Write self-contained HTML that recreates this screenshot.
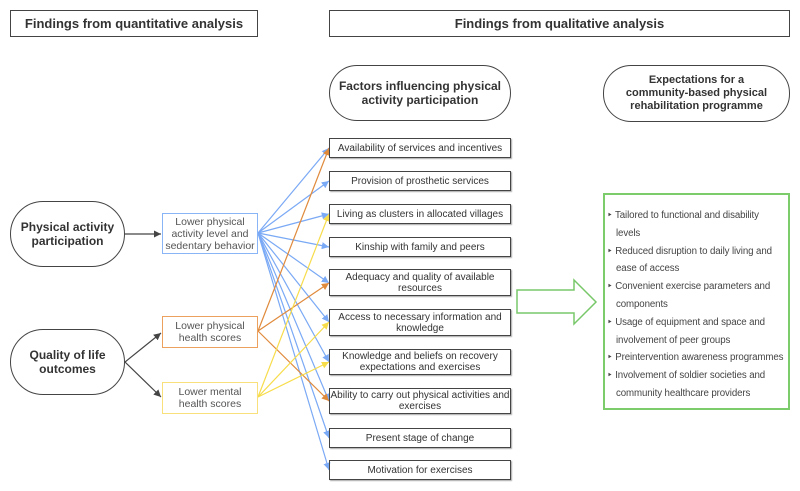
<!DOCTYPE html>
<html><head><style>
body{margin:0;width:800px;height:491px;background:#fff;font-family:"Liberation Sans",sans-serif;color:#333;position:relative;overflow:hidden}
.a{position:absolute;box-sizing:border-box;display:flex;align-items:center;justify-content:center;text-align:center}
.h{border:1px solid #444;font-weight:bold;font-size:13px}
.f{border:1px solid #444;font-size:10px;line-height:11px;left:329px;width:182px;box-shadow:1px 1px 1px #aaa}
.o{border:1px solid #444;border-radius:35px;font-weight:bold}
.g{position:absolute;left:603px;top:193px;width:187px;height:217px;border:2px solid #7dcc6b;box-sizing:border-box;font-size:9.7px;letter-spacing:-0.1px;line-height:17.8px;padding:12px 0 0 2px;color:#444}
.g div{padding-left:9px;text-indent:-9px;white-space:nowrap}
</style></head><body>
<svg width="800" height="491" style="position:absolute;left:0;top:0">
<defs>
<marker id="mb" markerWidth="6" markerHeight="6" refX="6" refY="3" orient="auto"><path d="M0,0L6,3L0,6z" fill="#7aa9f5"/></marker>
<marker id="mo" markerWidth="6" markerHeight="6" refX="6" refY="3" orient="auto"><path d="M0,0L6,3L0,6z" fill="#e08a3c"/></marker>
<marker id="my" markerWidth="6" markerHeight="6" refX="6" refY="3" orient="auto"><path d="M0,0L6,3L0,6z" fill="#f7dc4a"/></marker>
<marker id="mk" markerWidth="6" markerHeight="6" refX="6" refY="3" orient="auto"><path d="M0,0L6,3L0,6z" fill="#444"/></marker>
</defs>
<g stroke="#444" stroke-width="1.2" fill="none">
<line x1="125" y1="234" x2="161" y2="234" marker-end="url(#mk)"/>
<line x1="125" y1="362" x2="161" y2="333" marker-end="url(#mk)"/>
<line x1="125" y1="362" x2="161" y2="397" marker-end="url(#mk)"/>
</g>
<g stroke="#7aa9f5" stroke-width="1.2" marker-end="url(#mb)">
<line x1="258" y1="233" x2="329" y2="148"/><line x1="258" y1="233" x2="329" y2="181"/>
<line x1="258" y1="233" x2="329" y2="214"/><line x1="258" y1="233" x2="329" y2="247"/>
<line x1="258" y1="233" x2="329" y2="283"/><line x1="258" y1="233" x2="329" y2="322"/>
<line x1="258" y1="233" x2="329" y2="362"/><line x1="258" y1="233" x2="329" y2="401"/>
<line x1="258" y1="233" x2="329" y2="438"/><line x1="258" y1="233" x2="329" y2="470"/>
</g>
<g stroke="#e08a3c" stroke-width="1.2" marker-end="url(#mo)">
<line x1="258" y1="331" x2="329" y2="148"/><line x1="258" y1="331" x2="329" y2="283"/><line x1="258" y1="331" x2="329" y2="401"/>
</g>
<g stroke="#f7dc4a" stroke-width="1.2" marker-end="url(#my)">
<line x1="258" y1="397" x2="329" y2="214"/><line x1="258" y1="397" x2="329" y2="322"/><line x1="258" y1="397" x2="329" y2="362"/>
</g>
<path d="M517,290 L574,290 L574,280 L596,302 L574,324 L574,313 L517,313 Z" fill="#fff" stroke="#78c86a" stroke-width="1.5"/>
</svg>
<div class="a h" style="left:10px;top:10px;width:248px;height:27px">Findings from quantitative analysis</div>
<div class="a h" style="left:329px;top:10px;width:461px;height:27px">Findings from qualitative analysis</div>
<div class="a o" style="left:329px;top:65px;width:182px;height:56px;font-size:12px;border-radius:28px;padding:0 4px">Factors influencing physical activity participation</div>
<div class="a o" style="left:603px;top:65px;width:187px;height:57px;font-size:11px;line-height:13px;border-radius:28px;padding:0 14px">Expectations for a community-based physical rehabilitation programme</div>
<div class="a o" style="left:10px;top:201px;width:115px;height:66px;font-size:12px">Physical activity participation</div>
<div class="a o" style="left:10px;top:329px;width:115px;height:66px;font-size:12px">Quality of life outcomes</div>
<div class="a" style="left:162px;top:213px;width:96px;height:41px;border:1px solid #8ab4f8;font-size:10.5px;line-height:12px;color:#555">Lower physical activity level and sedentary behavior</div>
<div class="a" style="left:162px;top:316px;width:96px;height:32px;border:1.5px solid #eca15f;font-size:10.5px;line-height:12px;color:#555;padding:0 8px">Lower physical health scores</div>
<div class="a" style="left:162px;top:382px;width:96px;height:32px;border:1.5px solid #f9e07a;font-size:10.5px;line-height:12px;color:#555;padding:0 8px">Lower mental health scores</div>
<div class="a f" style="top:138px;height:20px">Availability of services and incentives</div>
<div class="a f" style="top:171px;height:20px">Provision of prosthetic services</div>
<div class="a f" style="top:204px;height:20px">Living as clusters in allocated villages</div>
<div class="a f" style="top:237px;height:20px">Kinship with family and peers</div>
<div class="a f" style="top:269px;height:27px">Adequacy and quality of available resources</div>
<div class="a f" style="top:309px;height:27px">Access to necessary information and knowledge</div>
<div class="a f" style="top:349px;height:26px">Knowledge and beliefs on recovery expectations and exercises</div>
<div class="a f" style="top:388px;height:26px">Ability to carry out physical activities and exercises</div>
<div class="a f" style="top:428px;height:20px">Present stage of change</div>
<div class="a f" style="top:460px;height:20px">Motivation for exercises</div>
<div class="g">
<div>‣ Tailored to functional and disability<br>levels</div>
<div>‣ Reduced disruption to daily living and<br>ease of access</div>
<div>‣ Convenient exercise parameters and<br>components</div>
<div>‣ Usage of equipment and space and<br>involvement of peer groups</div>
<div>‣ Preintervention awareness programmes</div>
<div>‣ Involvement of soldier societies and<br>community healthcare providers</div>
</div>
</body></html>
